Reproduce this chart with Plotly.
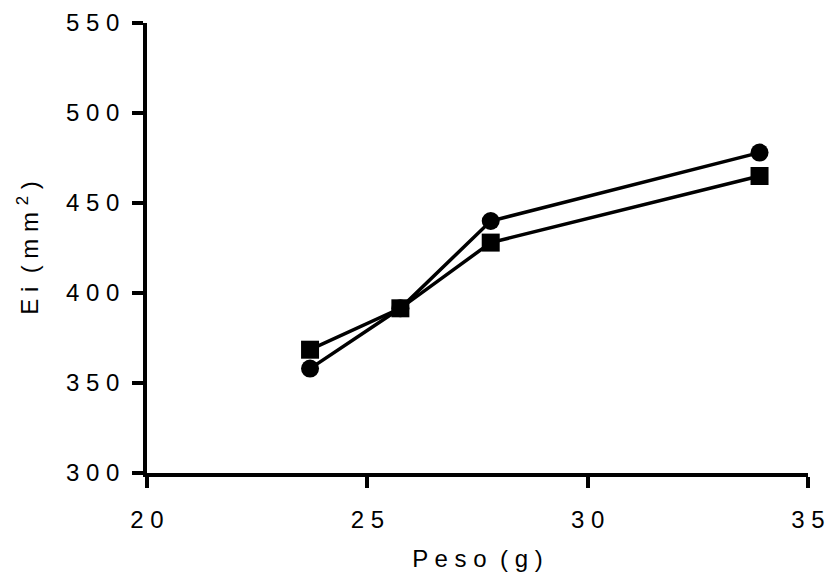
import plotly.graph_objects as go

# Data
peso = [23.7, 25.75, 27.8, 33.9]
ei_circle = [358, 391.5, 440, 478]
ei_square = [368.5, 391.5, 428, 465]

x_ticks = [20, 25, 30, 35]
y_ticks = [300, 350, 400, 450, 500, 550]


def spaced(s):
    return " ".join(list(str(s)))


FONT = "Liberation Sans, Arial, sans-serif"
FS = 24

fig = go.Figure()
fig.add_trace(go.Scatter(
    x=peso, y=ei_circle, mode="lines+markers",
    line=dict(color="black", width=3.5),
    marker=dict(symbol="circle", size=18, color="black"),
    showlegend=False,
))
fig.add_trace(go.Scatter(
    x=peso, y=ei_square, mode="lines+markers",
    line=dict(color="black", width=3.5),
    marker=dict(symbol="square", size=18, color="black"),
    showlegend=False,
))

axis_common = dict(
    showgrid=False, zeroline=False, showline=True, linecolor="black", linewidth=3.5,
    ticks="outside", ticklen=11, tickwidth=3.5, tickcolor="black",
    tickfont=dict(family=FONT, size=FS, color="black"),
    automargin=False,
)

fig.update_layout(
    width=833, height=578,
    margin=dict(l=147, r=25, t=23, b=105),
    paper_bgcolor="white", plot_bgcolor="white",
    font=dict(family=FONT, size=FS, color="black"),
    xaxis=dict(
        range=[20, 35], tickvals=x_ticks, ticktext=[spaced(v) for v in x_ticks],
        ticklabelstandoff=11,
        title=dict(text="P e s o  ( g )", font=dict(family=FONT, size=FS, color="black"), standoff=20),
        **axis_common,
    ),
    yaxis=dict(
        range=[300, 550], tickvals=y_ticks, ticktext=[spaced(v) for v in y_ticks],
        ticklabelstandoff=8,
        title=dict(text="E i  ( m m <sup>2</sup> )", font=dict(family=FONT, size=FS, color="black"), standoff=22),
        **axis_common,
    ),
)

fig.write_html("out.html")
